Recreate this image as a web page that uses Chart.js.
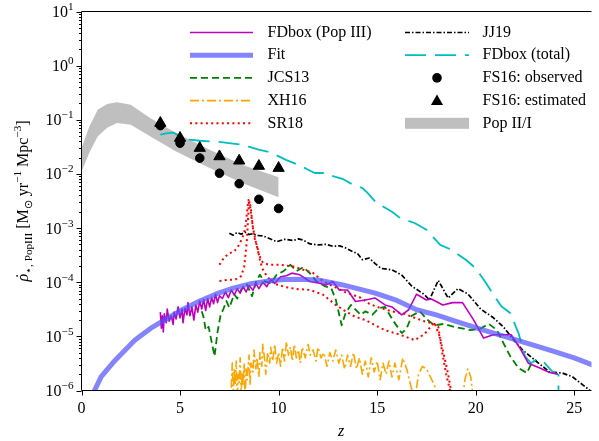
<!DOCTYPE html>
<html>
<head>
<meta charset="utf-8">
<script src="https://cdn.jsdelivr.net/npm/chart.js@4"></script>
<style>
  html, body { margin: 0; padding: 0; background: #fff; }
</style>
</head>
<body>
<canvas id="chart" width="599" height="441"></canvas>
<script>
// ---- data: [z, rho_dot] ----
const zTicks = [0, 5, 10, 15, 20, 25];
const decades = [-6, -5, -4, -3, -2, -1, 0, 1];

const popZ = [0, 0.4, 0.82, 1.3, 1.8, 2.5, 3.5, 4.8, 6.5, 8.15, 10];
const popUpper = [0.030, 0.075, 0.153, 0.195, 0.21, 0.19, 0.107, 0.057, 0.028, 0.0147, 0.0087];
const popLower = [0.011, 0.025, 0.049, 0.071, 0.087, 0.081, 0.049, 0.026, 0.0129, 0.0068, 0.0037];

const fs16Z = [4, 5, 6, 7, 8, 9, 10];
const fs16Obs = [0.078, 0.037, 0.0196, 0.0103, 0.0066, 0.0034, 0.0023];
const fs16Est = [0.087, 0.046, 0.030, 0.021, 0.0175, 0.014, 0.0128];

const fdPopIII = [
  [4.00,2.8e-5],[4.05,1.41e-5],[4.10,2.4e-5],[4.15,1.2e-5],[4.20,2.6e-5],[4.30,1.78e-5],[4.35,3.2e-5],
  [4.45,1.9e-5],[4.55,2.4e-5],[4.65,1.66e-5],[4.70,2.8e-5],[4.80,2.1e-5],[4.90,3.5e-5],[5.00,2.2e-5],
  [5.10,3.2e-5],[5.15,1.78e-5],[5.25,3.3e-5],[5.35,2.5e-5],[5.40,4.2e-5],[5.50,2.4e-5],[5.60,3.5e-5],
  [5.70,2.0e-5],[5.80,3.8e-5],[5.90,2.8e-5],[6.00,4.5e-5],[6.10,3.2e-5],[6.20,4.8e-5],[6.30,3.0e-5],
  [6.40,5.0e-5],[6.50,3.5e-5],[6.60,5.2e-5],[6.70,4.0e-5],[6.80,6.0e-5],[6.90,4.2e-5],[7.00,5.6e-5],
  [7.15,5.0e-5],[7.30,6.6e-5],[7.45,5.2e-5],[7.60,7.2e-5],[7.75,5.8e-5],[7.90,7.6e-5],[8.05,6.3e-5],
  [8.20,8.3e-5],[8.35,6.6e-5],[8.50,8.7e-5],[8.70,7.1e-5],[8.85,9.5e-5],[9.00,7.6e-5],[9.20,1.0e-4],
  [9.40,8.3e-5],[9.60,1.12e-4],[9.80,9.5e-5],[10.1,1.26e-4],[10.4,1.32e-4],[10.67,1.47e-4],[11.08,1.37e-4],
  [11.58,1.03e-4],[12.08,9.6e-5],[12.4,8.9e-5],[12.75,1.03e-4],[13.08,7.2e-5],[13.5,7.2e-5],[13.9,4.4e-5],
  [14.4,4.7e-5],[14.9,5.1e-5],[15.4,3.8e-5],[15.75,3.5e-5],[16.25,2.5e-5],[16.6,3.1e-5],[17.0,6.0e-5],
  [17.5,4.7e-5],[17.75,4.9e-5],[18.33,3.8e-5],[18.83,4.2e-5],[19.33,4.2e-5],[19.9,2.0e-5],[20.4,9.3e-6],
  [20.9,1.07e-5],[21.8,1.07e-5],[22.25,6.0e-6],[22.67,3.2e-6],[23.25,2.6e-6],[23.75,2.15e-6],[24.17,2.0e-6]
];

const fitCurve = [
  [0.6,9e-7],[1.0,1.8e-6],[1.7,3.6e-6],[2.7,8.5e-6],[3.5,1.4e-5],[4.2,2.0e-5],[5.1,3.1e-5],[6.0,4.5e-5],
  [6.8,6.0e-5],[7.7,7.8e-5],[8.6,9.4e-5],[9.5,1.06e-4],[10.3,1.12e-4],[11.2,1.14e-4],[12.0,1.1e-4],
  [13.2,9.0e-5],[14.0,7.6e-5],[14.9,6.3e-5],[16.0,4.6e-5],[17.0,3.1e-5],[18.0,2.5e-5],[19.0,1.9e-5],
  [20.4,1.3e-5],[22.0,8.7e-6],[23.8,5.5e-6],[25.0,4.0e-6],[26.0,2.9e-6]
];

const jcs13 = [
  [6.1,2.9e-5],[6.2,2.2e-5],[6.3,1.3e-5],[6.45,1.5e-5],[6.6,8e-6],[6.75,4.3e-6],[6.9,1.2e-5],[7.05,2.4e-5],
  [7.2,3.2e-5],[7.35,4.5e-5],[7.5,3.4e-5],[7.75,6.0e-5],[7.9,5.0e-5],[8.1,7.3e-5],[8.4,9.0e-5],[8.65,5.5e-5],
  [8.85,1.0e-4],[9.05,1.38e-4],[9.25,1.05e-4],[9.45,1.0e-4],[9.6,9.5e-5],[9.9,1.38e-4],[10.25,1.6e-4],
  [10.6,2.1e-4],[10.9,1.6e-4],[11.25,1.9e-4],[11.6,1.45e-4],[11.9,1.05e-4],[12.33,8.5e-5],[12.67,7.8e-5],
  [12.9,4.8e-5],[13.1,2.3e-5],[13.2,1.6e-5],[13.4,2.7e-5],[13.67,3.8e-5],[13.83,3.3e-5],[14.17,2.5e-5],
  [14.4,2.9e-5],[14.75,2.5e-5],[15.08,3.3e-5],[15.4,3.5e-5],[15.83,1.9e-5],[16.25,1.15e-5],[16.5,1.4e-5],
  [16.75,2.4e-5],[17.17,2.9e-5],[17.5,2.1e-5],[17.9,1.6e-5],[18.4,1.7e-5],[18.9,1.5e-5],[19.75,1.3e-5],
  [20.25,1.4e-5],[20.67,1.7e-5],[21.08,1.3e-5],[21.4,7.6e-6],[21.75,4.3e-6],[22.17,2.6e-6],[22.6,2.1e-6],
  [22.83,3.2e-6],[23.08,3.7e-6]
];

const xh16 = [
  [7.6,1.12e-6],[7.65,3.2e-6],[7.7,7.9e-7],[7.75,2.5e-6],[7.8,1.26e-6],[7.85,3.5e-6],[7.9,6.3e-7],[7.95,2.0e-6],
  [8.0,1.41e-6],[8.05,4.0e-6],[8.1,7.9e-7],[8.15,2.2e-6],[8.2,1.26e-6],[8.25,3.2e-6],[8.3,6.3e-7],[8.35,2.5e-6],
  [8.4,1.58e-6],[8.5,4.5e-6],[8.55,1.26e-6],[8.6,3.2e-6],[8.7,2.2e-6],[8.75,5.6e-6],[8.85,2.5e-6],[8.9,4.0e-6],
  [9.0,1.78e-6],[9.05,5.0e-6],[9.15,2.8e-6],[9.2,7.1e-6],[9.3,3.5e-6],[9.35,2.0e-6],[9.45,5.0e-6],[9.55,3.2e-6],
  [9.6,6.3e-6],[9.7,3.5e-6],[9.8,7.1e-6],[9.9,3.2e-6],[10.0,5.0e-6],[10.1,2.8e-6],[10.2,6.3e-6],[10.3,3.5e-6],
  [10.4,7.9e-6],[10.5,4.5e-6],[10.6,6.3e-6],[10.7,3.5e-6],[10.8,7.1e-6],[10.9,4.0e-6],[11.0,5.6e-6],[11.1,3.2e-6],
  [11.2,6.3e-6],[11.35,4.0e-6],[11.5,7.1e-6],[11.6,4.5e-6],[11.75,5.6e-6],[11.9,3.5e-6],[12.0,6.3e-6],
  [12.15,4.0e-6],[12.3,5.0e-6],[12.45,2.8e-6],[12.6,5.0e-6],[12.75,3.5e-6],[12.9,5.6e-6],[13.05,3.2e-6],
  [13.2,4.5e-6],[13.35,2.5e-6],[13.5,4.5e-6],[13.65,2.8e-6],[13.8,5.0e-6],[13.95,2.5e-6],[14.1,4.0e-6],
  [14.25,2.0e-6],[14.4,3.5e-6],[14.55,1.78e-6],[14.7,4.0e-6],[14.85,2.2e-6],[15.0,3.5e-6],[15.15,1.58e-6],
  [15.3,3.2e-6],[15.45,2.0e-6],[15.6,3.5e-6],[15.75,1.78e-6],[15.9,3.2e-6],[16.1,1.58e-6],[16.3,4.0e-6],
  [16.5,2.5e-6],[16.7,1.26e-6],[16.9,6.3e-7],[17.1,2.0e-6],[17.3,2.8e-6],[17.5,2.5e-6],[17.7,1.78e-6],
  [17.9,1.26e-6],[18.1,7.9e-7],[18.3,4e-7],[19.3,5e-7],[19.45,1.58e-6],[19.6,2.5e-6],[19.75,1.78e-6],[19.9,6.3e-7]
];

const sr18Low = [
  [7.0,1.05e-4],[7.4,1.1e-4],[7.8,1.12e-4],[8.1,1.3e-4],[8.25,1.9e-4],[8.33,3.5e-4],[8.4,6.5e-4],[8.45,1.5e-3],
  [8.5,3.3e-3],[8.6,1.9e-3],[8.75,7.0e-4],[8.92,4.5e-4],[9.05,2.6e-4],[9.17,1.8e-4],[9.42,1.27e-4],[9.75,9.5e-5],
  [10.3,8.2e-5],[10.9,7.5e-5],[11.6,7.2e-5],[12.25,5.9e-5],[12.9,3.8e-5],[13.4,2.9e-5],[13.9,2.3e-5],[14.4,2.0e-5],
  [14.9,1.6e-5],[15.4,1.3e-5],[15.9,1.15e-5],[16.4,1.0e-5],[16.9,8.5e-6],[17.4,1.1e-5],[17.9,1.8e-5],[18.17,1.0e-5],
  [18.4,4.3e-6],[18.6,2.0e-6],[18.75,1.0e-6],[18.85,6e-7]
];
const sr18High = [
  [7.0,2.1e-4],[7.25,2.9e-4],[7.5,3.4e-4],[7.75,3.7e-4],[8.0,4.9e-4],[8.15,6.5e-4],[8.25,8.0e-4],[8.33,1.15e-3],
  [8.4,2.0e-3],[8.47,3.3e-3],[8.58,2.5e-3],[8.7,1.0e-3],[8.85,5.5e-4],[9.0,3.2e-4],[9.2,2.3e-4],[9.5,2.1e-4],
  [10.1,2.1e-4],[10.75,1.95e-4],[11.25,1.7e-4],[11.75,1.48e-4],[12.25,1.05e-4],[12.75,8.5e-5],[13.4,6.5e-5],
  [14.1,5.3e-5],[14.6,4.0e-5],[15.1,3.4e-5],[15.75,2.9e-5],[16.4,2.6e-5],[16.9,2.2e-5],[17.4,1.9e-5],[17.9,1.7e-5],
  [18.1,1.5e-5],[18.3,5e-6],[18.5,2e-6],[18.7,1e-6],[18.9,6e-7]
];

const jj19 = [
  [7.5,8.0e-4],[7.7,7.4e-4],[7.9,8.3e-4],[8.1,7.7e-4],[8.3,8.4e-4],[8.5,7.6e-4],[8.7,7.9e-4],[8.9,7.3e-4],
  [9.2,7.2e-4],[9.5,6.5e-4],[9.9,5.6e-4],[10.3,6.2e-4],[10.75,5.9e-4],[11.0,6.3e-4],[11.25,6.0e-4],[11.6,5.1e-4],
  [12.0,4.9e-4],[12.4,5.0e-4],[12.75,4.6e-4],[13.1,4.7e-4],[13.4,4.3e-4],[13.75,3.7e-4],[14.0,3.4e-4],
  [14.25,2.6e-4],[14.6,2.8e-4],[14.9,2.2e-4],[15.2,1.8e-4],[15.75,1.7e-4],[16.25,1.35e-4],[16.75,8.5e-5],
  [17.1,7.0e-5],[17.4,5.9e-5],[17.65,4.7e-5],[18.1,1.08e-4],[18.6,5.1e-5],[19.1,7.6e-5],[19.6,6.1e-5],
  [20.25,3.2e-5],[20.9,2.2e-5],[21.4,1.5e-5],[22.0,8.0e-6],[22.4,5.5e-6],[23.1,3.4e-6],[23.75,2.2e-6],
  [24.4,2.1e-6],[24.9,1.8e-6],[25.4,1.3e-6],[25.8,1.0e-6],[26.0,8e-7]
];

const fdTotal = [
  [4.0,0.053],[4.3,0.056],[4.65,0.058],[5.0,0.050],[5.48,0.043],[6.0,0.041],[6.48,0.040],[7.0,0.039],
  [7.48,0.037],[8.0,0.035],[8.48,0.032],[8.98,0.028],[9.6,0.025],[10.4,0.018],[10.9,0.0152],[11.4,0.0125],
  [11.83,0.0104],[12.33,0.0104],[12.8,0.009],[13.28,0.008],[13.78,0.0063],[14.25,0.0055],[14.5,0.0045],
  [14.9,0.0031],[15.3,0.0025],[15.75,0.002],[16.17,0.00153],[16.5,0.0014],[16.9,0.00124],[17.5,0.00093],
  [18.2,0.00049],[18.75,0.0004],[19.5,0.00026],[20.0,0.00018],[20.5,1.0e-4],[20.8,6.7e-5],[21.3,3.6e-5],
  [21.75,2.7e-5],[22.17,1.15e-5],[22.5,4.3e-6],[22.8,3.2e-6],[23.08,3.7e-6],[23.4,3.5e-6],[23.9,2.2e-6],
  [24.2,1.95e-6],[24.2,5e-7]
];

// ---- styling ----
const SERIF = '"Liberation Serif", "Times New Roman", serif';
const FS = 16;
const C_MAG = '#bf00bf';
const C_FIT = 'rgba(80, 80, 255, 0.7)';
const C_GREEN = '#008000';
const C_ORANGE = '#ffa500';
const C_RED = '#ff0000';
const C_CYAN = '#00bfbf';
const C_GRAY = '#bfbfbf';
const DASH = {
  jcs: [7, 4],
  xh: [9, 3, 2, 3],
  sr: [2, 3.3],
  jj: [5, 2, 1.5, 2],
  tot: [21, 9]
};

const toPts = (pairs) => pairs.map(([x, y]) => ({ x, y }));
const zipPts = (xs, ys) => xs.map((x, i) => ({ x, y: ys[i] }));

function lineSet(label, pairs, color, width, dash) {
  return {
    label,
    data: toPts(pairs),
    showLine: true,
    borderColor: color,
    backgroundColor: color,
    borderWidth: width,
    borderDash: dash || [],
    borderJoinStyle: 'round',
    pointRadius: 0,
    fill: false,
    tension: 0
  };
}

// first dataset is drawn on top
const datasets = [
  {
    label: 'FS16: estimated', data: zipPts(fs16Z, fs16Est), pointStyle: 'triangle',
    pointRadius: 6.5, borderWidth: 1, backgroundColor: '#000', borderColor: '#000'
  },
  {
    label: 'FS16: observed', data: zipPts(fs16Z, fs16Obs), pointStyle: 'circle',
    pointRadius: 4.3, borderWidth: 1, backgroundColor: '#000', borderColor: '#000'
  },
  lineSet('Fit', fitCurve, C_FIT, 5),
  lineSet('FDbox (Pop III)', fdPopIII, C_MAG, 1.6),
  lineSet('FDbox (total)', fdTotal, C_CYAN, 1.8, DASH.tot),
  lineSet('JJ19', jj19, '#000', 1.7, DASH.jj),
  lineSet('SR18', sr18High, C_RED, 2, DASH.sr),
  lineSet('SR18b', sr18Low, C_RED, 2, DASH.sr),
  lineSet('JCS13', jcs13, C_GREEN, 1.8, DASH.jcs),
  lineSet('XH16', xh16, C_ORANGE, 1.6, DASH.xh),
  {
    label: 'Pop II/I', data: zipPts(popZ, popUpper), showLine: true, borderWidth: 0,
    pointRadius: 0, fill: '+1', backgroundColor: C_GRAY, borderColor: C_GRAY
  },
  {
    label: 'Pop II/I low', data: zipPts(popZ, popLower), showLine: true, borderWidth: 0,
    pointRadius: 0, fill: false, backgroundColor: C_GRAY, borderColor: C_GRAY
  }
];

// ---- axes, tick labels, titles and legend ----
function richText(ctx, parts, x, y, align) {
  let total = 0;
  for (const p of parts) {
    ctx.font = `${p.italic ? 'italic ' : ''}${p.size}px ${SERIF}`;
    p.w = ctx.measureText(p.t).width;
    total += p.w;
  }
  let cx = align === 'right' ? x - total : align === 'center' ? x - total / 2 : x;
  ctx.textAlign = 'left';
  ctx.textBaseline = 'alphabetic';
  for (const p of parts) {
    ctx.font = `${p.italic ? 'italic ' : ''}${p.size}px ${SERIF}`;
    ctx.fillText(p.t, cx, y + (p.dy || 0));
    if (p.dot) {
      // dot accent over the glyph (rho-dot)
      ctx.textAlign = 'center';
      ctx.fillText('\u02D9', cx + p.w * 0.62, y + (p.dy || 0) - 1);
      ctx.textAlign = 'left';
    }
    cx += p.w;
  }
}

function expText(e) {
  return e < 0 ? '\u2212' + Math.abs(e) : String(e);
}

function strokeSample(ctx, x1, x2, y, color, width, dash) {
  ctx.save();
  ctx.strokeStyle = color;
  ctx.lineWidth = width;
  ctx.setLineDash(dash || []);
  ctx.lineDashOffset = 0;
  ctx.beginPath();
  ctx.moveTo(x1, y);
  ctx.lineTo(x2, y);
  ctx.stroke();
  ctx.restore();
}

function triangle(ctx, x, y, r) {
  ctx.beginPath();
  ctx.moveTo(x, y - r);
  ctx.lineTo(x + r * 0.866, y + r * 0.5);
  ctx.lineTo(x - r * 0.866, y + r * 0.5);
  ctx.closePath();
  ctx.fill();
}

const decor = {
  id: 'decor',
  afterDraw(chart) {
    const { ctx, chartArea: a, scales: { x, y } } = chart;
    ctx.save();
    ctx.strokeStyle = '#000';
    ctx.fillStyle = '#000';
    ctx.lineWidth = 1;
    ctx.setLineDash([]);

    // frame
    ctx.beginPath();
    ctx.moveTo(a.right, a.top);
    ctx.lineTo(a.left, a.top);
    ctx.lineTo(a.left, a.bottom);
    ctx.lineTo(a.right, a.bottom);
    ctx.stroke();

    // x ticks
    ctx.beginPath();
    zTicks.forEach((t) => {
      const px = Math.round(x.getPixelForValue(t)) + 0.5;
      ctx.moveTo(px, a.bottom);
      ctx.lineTo(px, a.bottom + 5);
    });
    // y ticks, major and minor
    decades.forEach((e) => {
      const py = Math.round(y.getPixelForValue(Math.pow(10, e))) + 0.5;
      ctx.moveTo(a.left, py);
      ctx.lineTo(a.left - 5, py);
      if (e < 1) {
        for (let m = 2; m <= 9; m++) {
          const pm = Math.round(y.getPixelForValue(m * Math.pow(10, e))) + 0.5;
          ctx.moveTo(a.left, pm);
          ctx.lineTo(a.left - 2.5, pm);
        }
      }
    });
    ctx.stroke();

    // x tick labels
    ctx.font = `${FS}px ${SERIF}`;
    ctx.textAlign = 'center';
    ctx.textBaseline = 'alphabetic';
    zTicks.forEach((t) => ctx.fillText(String(t), x.getPixelForValue(t), a.bottom + 22.5));

    // y tick labels 10^e
    decades.forEach((e) => {
      const py = y.getPixelForValue(Math.pow(10, e));
      richText(ctx, [
        { t: '10', size: FS },
        { t: expText(e), size: FS * 0.7, dy: -7 }
      ], a.left - 8, py + 5.5, 'right');
    });

    // x title
    richText(ctx, [{ t: 'z', size: FS, italic: true }], 341, 436, 'center');

    // y title, rotated
    ctx.save();
    ctx.translate(28, (a.top + a.bottom) / 2);
    ctx.rotate(-Math.PI / 2);
    richText(ctx, [
      { t: '\u03C1', size: FS, italic: true, dot: true },
      { t: '\u22C6, PopIII', size: FS * 0.7, dy: 3.5 },
      { t: ' [M', size: FS },
      { t: '\u2299', size: FS * 0.7, dy: 3.5 },
      { t: ' yr', size: FS },
      { t: '\u22121', size: FS * 0.7, dy: -7 },
      { t: ' Mpc', size: FS },
      { t: '\u22123', size: FS * 0.7, dy: -7 },
      { t: ']', size: FS }
    ], 0, 0, 'center');
    ctx.restore();

    // legend
    const rows = [32.5, 55.2, 77.9, 100.6, 123.3];
    const c1 = [190, 253, 267.5];
    const c2 = [405, 469, 482.5];
    strokeSample(ctx, c1[0], c1[1], rows[0], C_MAG, 1.6);
    strokeSample(ctx, c1[0], c1[1], rows[1], C_FIT, 5);
    strokeSample(ctx, c1[0], c1[1], rows[2], C_GREEN, 1.8, DASH.jcs);
    strokeSample(ctx, c1[0], c1[1], rows[3], C_ORANGE, 1.6, DASH.xh);
    strokeSample(ctx, c1[0], c1[1], rows[4], C_RED, 2, DASH.sr);
    strokeSample(ctx, c2[0], c2[1], rows[0], '#000', 1.7, DASH.jj);
    strokeSample(ctx, c2[0], c2[1], rows[1], C_CYAN, 1.8, DASH.tot);
    ctx.fillStyle = '#000';
    ctx.beginPath();
    ctx.arc((c2[0] + c2[1]) / 2, rows[2], 4.8, 0, Math.PI * 2);
    ctx.fill();
    triangle(ctx, (c2[0] + c2[1]) / 2, rows[3] + 1, 7);
    ctx.fillStyle = C_GRAY;
    ctx.fillRect(c2[0], rows[4] - 5.5, c2[1] - c2[0], 11);

    ctx.fillStyle = '#000';
    ctx.font = `${FS}px ${SERIF}`;
    ctx.textAlign = 'left';
    ctx.textBaseline = 'middle';
    ['FDbox (Pop III)', 'Fit', 'JCS13', 'XH16', 'SR18'].forEach((t, i) => ctx.fillText(t, c1[2], rows[i]));
    ['JJ19', 'FDbox (total)', 'FS16: observed', 'FS16: estimated', 'Pop II/I'].forEach((t, i) => ctx.fillText(t, c2[2], rows[i]));
    ctx.restore();
  }
};

new Chart(document.getElementById('chart').getContext('2d'), {
  type: 'scatter',
  data: { datasets },
  options: {
    responsive: false,
    animation: false,
    devicePixelRatio: 1,
    layout: { padding: { left: 81.5, top: 11.5, right: 0, bottom: 50.5 } },
    plugins: { legend: { display: false }, tooltip: { enabled: false } },
    scales: {
      x: { type: 'linear', min: 0, max: 25.875, display: false },
      y: { type: 'logarithmic', min: 1e-6, max: 10, display: false }
    }
  },
  plugins: [decor]
});
</script>
</body>
</html>
